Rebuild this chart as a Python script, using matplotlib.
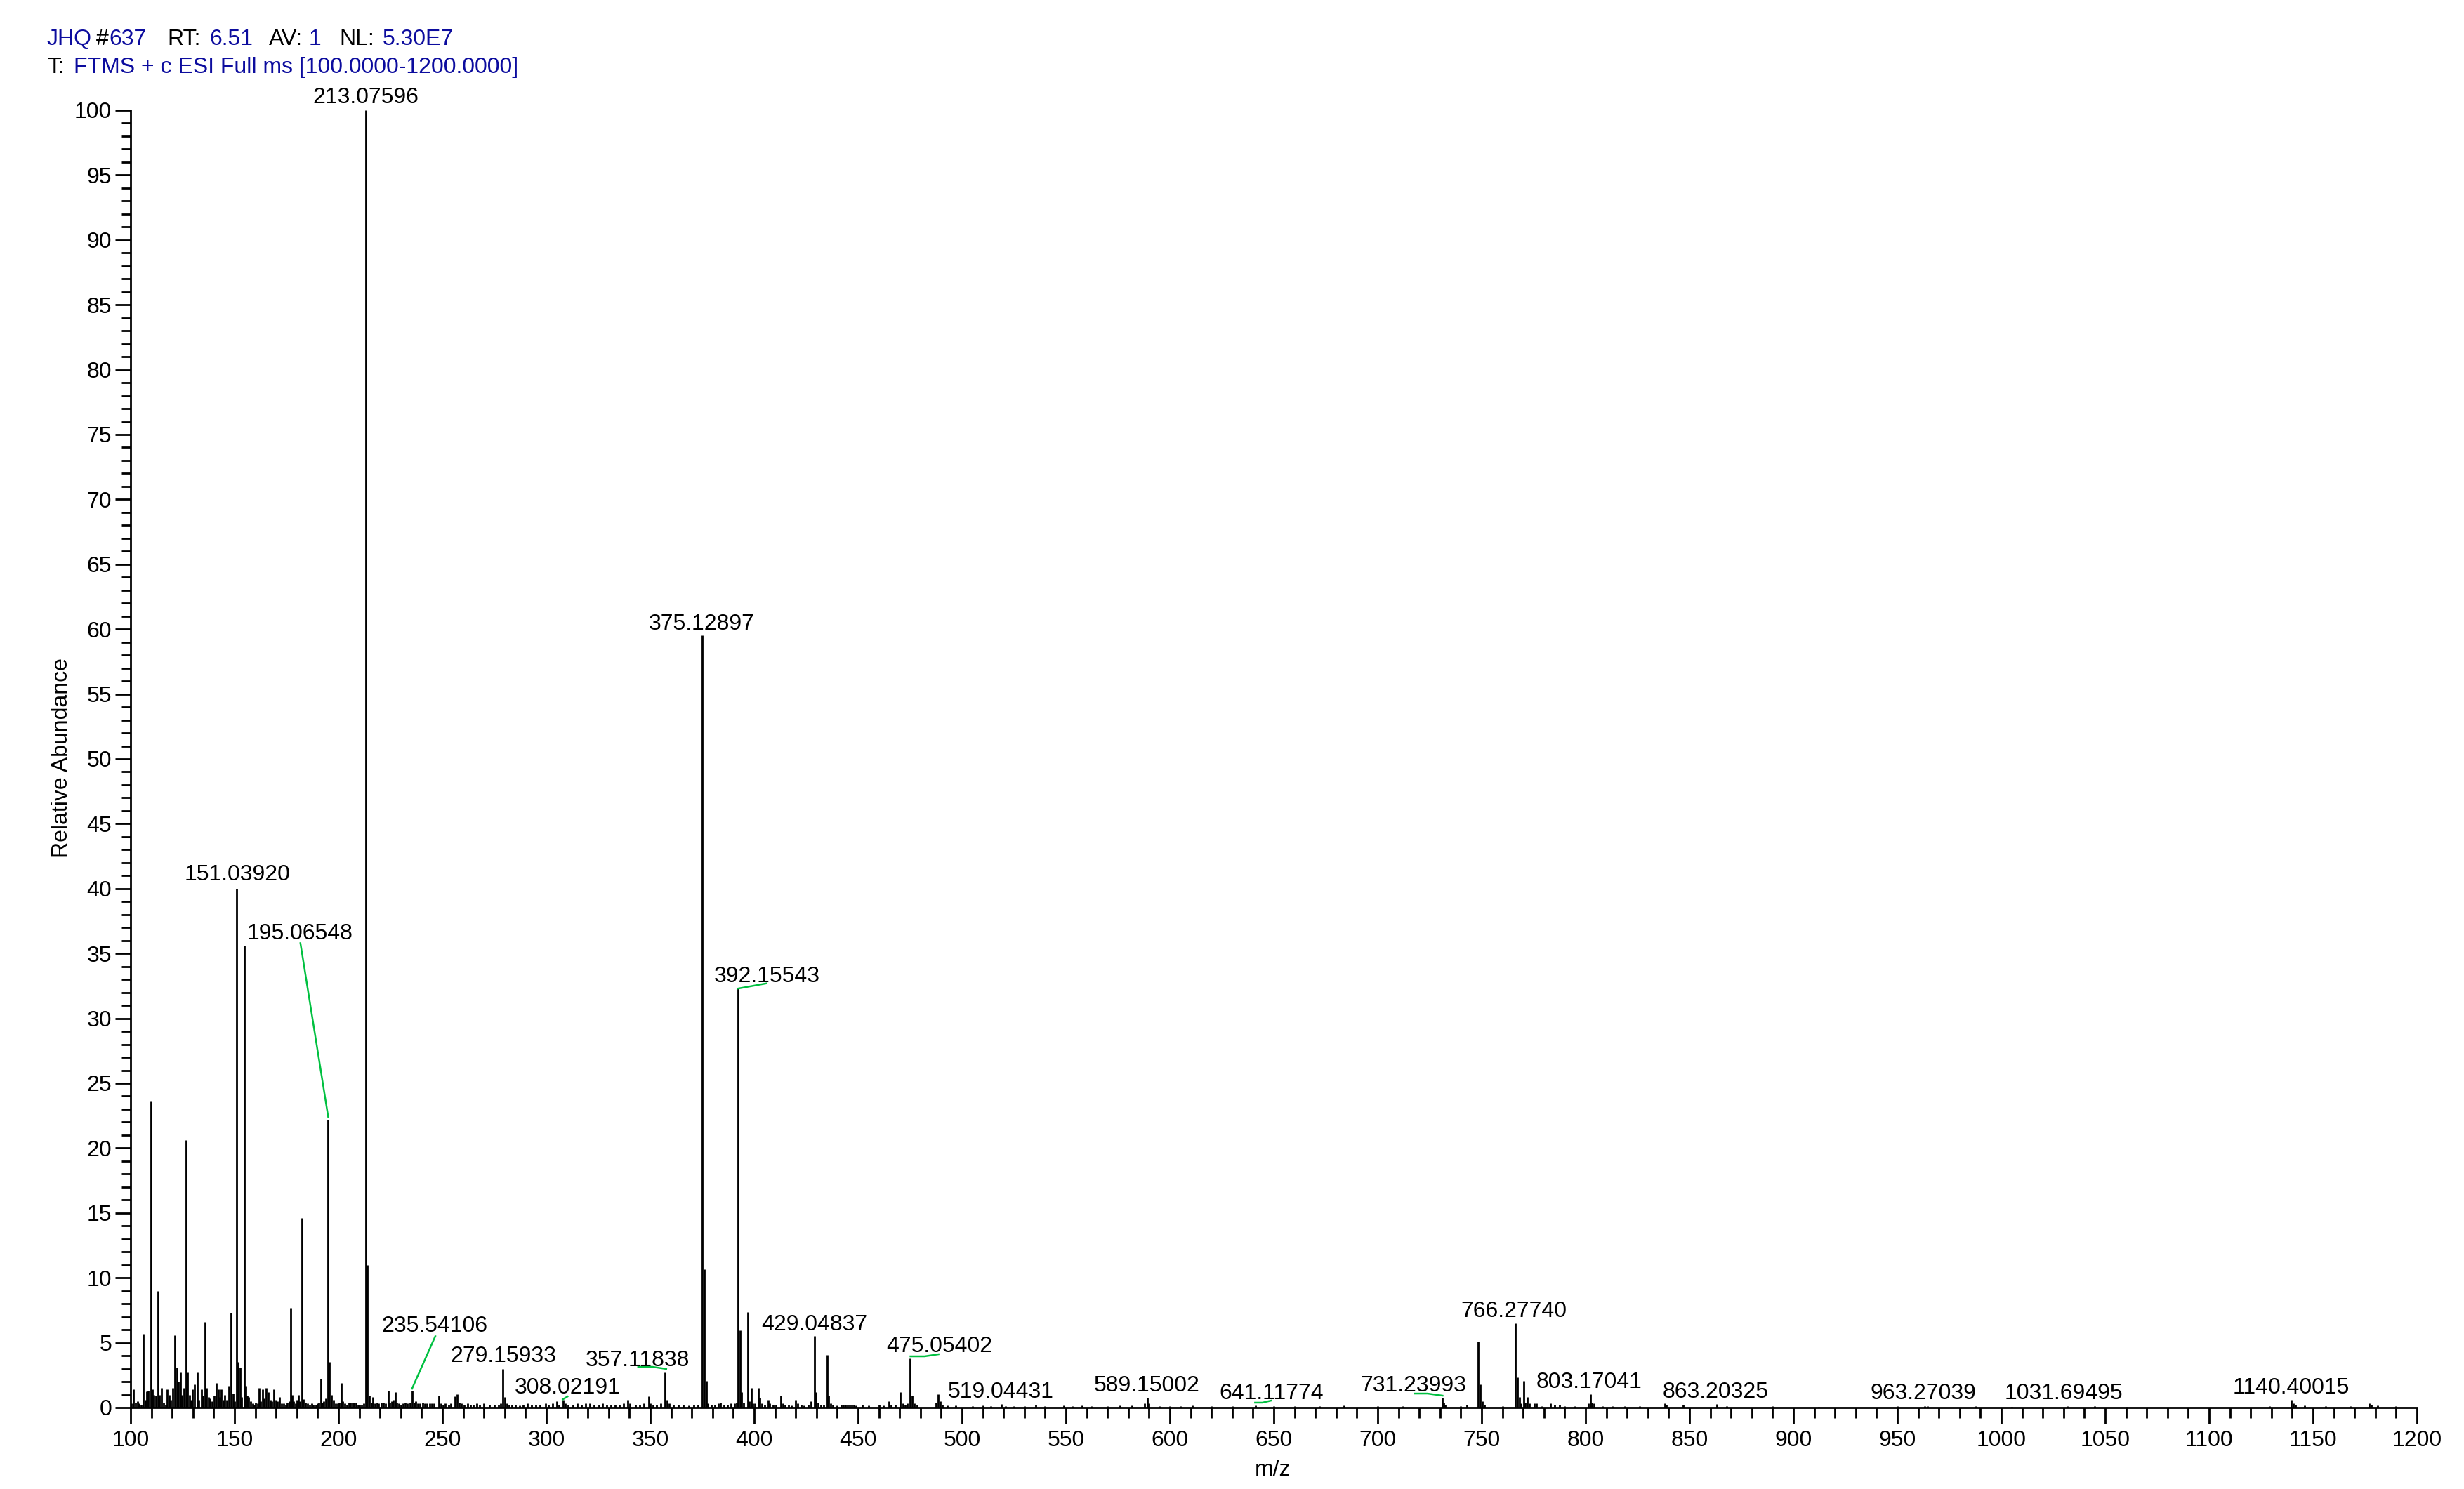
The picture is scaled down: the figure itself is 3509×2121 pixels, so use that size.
import matplotlib
matplotlib.use("Agg")
import matplotlib.pyplot as plt
from matplotlib.ticker import MultipleLocator, FormatStrFormatter

plt.rcParams['font.family'] = ['Liberation Sans', 'DejaVu Sans']

# ---------------- data ----------------
mz = [
    100.5, 101.5, 102.3, 103.4, 104.2, 105.0, 106.0, 107.0, 107.7, 108.5, 109.7, 110.6, 111.3, 112.2,
    113.2, 114.0, 114.9, 116.0, 116.8, 117.6, 118.5, 119.3, 120.3, 121.3, 122.2, 123.1, 124.0, 124.8,
    125.8, 126.7, 127.4, 128.3, 129.0, 129.8, 130.9, 132.0, 132.9, 134.0, 134.8, 135.7, 136.6, 137.5,
    138.3, 139.3, 140.2, 141.1, 142.2, 142.9, 143.6, 144.5, 145.4, 146.3, 147.3, 148.2, 149.2, 150.1,
    151.04, 151.8, 152.7, 153.5, 154.6, 155.4, 156.2, 156.9, 157.8, 158.7, 159.5, 160.3, 161.0, 161.8,
    162.6, 163.4, 164.3, 165.2, 166.2, 167.1, 168.0, 168.8, 169.8, 170.7, 171.6, 172.5, 173.5, 174.5,
    175.4, 176.2, 176.9, 177.6, 178.5, 179.4, 180.0, 180.7, 181.5, 182.4, 183.2, 184.1, 185.0, 186.0,
    187.0, 188.0, 189.1, 190.0, 190.7, 191.4, 192.2, 193.0, 194.0, 195.07, 195.7, 196.5, 197.6, 198.5,
    199.5, 200.4, 201.3, 202.1, 203.0, 204.0, 204.9, 205.8, 206.7, 207.5, 208.4, 209.3, 210.3, 211.2,
    212.2, 213.08, 214.0, 215.0, 215.8, 216.7,
    217.6, 218.5, 219.4, 220.5, 221.5, 222.5, 224.0, 224.8, 225.7, 226.5, 227.3, 228.2, 229.0, 230.0,
    231.0, 232.2, 233.2, 234.3, 235.54, 236.4, 237.3, 238.2, 239.2, 240.5, 241.5, 242.5, 244.0, 245.0,
    246.0, 248.2, 249.2, 250.3, 251.5, 253.0, 254.2, 256.0, 257.1, 258.0, 259.0, 260.5, 262.0, 263.5,
    265.0, 266.5, 268.0, 270.0, 272.5, 275.0, 277.0, 278.2, 279.16, 280.2, 281.1, 282.0, 283.5, 285.0,
    287.0, 289.0, 291.0, 293.0, 295.0, 297.0, 299.5, 301.0, 303.0, 305.0, 306.0, 308.02, 309.0, 310.5,
    313.0, 315.0, 317.0, 319.0, 321.0, 323.0, 325.5, 327.0, 329.0, 331.0, 333.0, 335.0, 337.0, 339.3,
    340.2, 343.0, 345.0, 347.0, 349.2, 350.0, 351.5, 353.0, 355.0, 357.12, 358.0, 359.0, 361.0, 363.5,
    366.0, 368.5, 371.0, 373.0,
    375.13, 376.0, 376.9, 377.7, 379.5, 381.0, 382.7, 383.9, 385.5, 387.0, 389.0, 390.5, 391.5, 392.16,
    393.1, 394.0, 394.8, 396.9, 397.7, 398.5, 399.3, 400.4, 401.9, 402.8, 403.7, 405.0, 406.7, 407.6,
    409.0, 410.5, 413.0, 413.8, 415.0, 416.5, 418.0, 420.0, 420.9, 422.5, 424.0, 426.0, 427.3, 429.05,
    429.8, 430.7, 432.0, 433.5, 435.1, 435.9, 436.8, 438.0, 440.0, 442.0, 443.0, 444.0, 445.0, 446.0,
    447.0, 448.0, 449.0, 452.0, 455.0, 460.0, 462.0, 464.7, 466.0, 468.0, 470.4, 471.5, 472.5, 473.5,
    475.05, 476.1, 477.0, 478.5, 487.5, 488.6, 489.5, 490.5, 493.0, 497.0,
    505.0, 510.0, 514.0, 519.04, 521.0, 525.0, 530.0, 535.6, 540.0, 549.0, 553.0, 557.7, 562.0, 570.0,
    576.0, 581.6, 588.0, 589.15, 590.0, 595.0, 600.0, 605.0, 610.7, 620.0, 630.0, 641.12, 650.0, 660.0,
    672.0, 683.7, 700.0, 712.0,
    731.24, 731.9, 732.6, 740.0, 743.0, 748.3, 749.3, 750.3, 751.3, 760.0, 766.28, 767.28, 768.3, 769.0,
    770.2, 771.0, 772.0, 773.0, 775.5, 776.5, 779.0, 783.0, 785.0, 787.5, 790.0, 795.0, 801.5, 802.4,
    803.2, 804.0, 808.0, 813.0, 819.0, 826.0, 838.1, 839.0, 847.0, 863.2, 868.0,
    890.0, 912.0, 950.0, 963.27, 964.5, 988.0, 1005.0, 1031.7, 1045.0, 1060.0, 1129.0, 1139.4, 1140.4,
    1141.5, 1146.0, 1156.0, 1168.0, 1177.0, 1178.0, 1181.0, 1190.0,
]
intensity = [
    0.3, 1.4, 0.4, 0.5, 0.3, 0.2, 5.7, 0.6, 1.25, 1.3, 23.6, 1.4, 1.0, 0.9,
    9.0, 1.0, 1.5, 0.4, 0.2, 1.4, 1.0, 0.6, 1.5, 5.6, 3.1, 2.0, 2.7, 1.0,
    1.5, 20.6, 2.7, 1.0, 0.6, 1.4, 1.8, 2.7, 0.6, 1.4, 0.9, 6.6, 1.5, 0.8,
    0.7, 0.5, 0.9, 1.9, 1.4, 0.8, 1.4, 0.6, 1.0, 0.6, 1.7, 7.3, 1.1, 0.5,
    40.0, 3.5, 3.1, 0.8, 35.6, 1.7, 0.9, 0.8, 0.5, 0.3, 0.2, 0.4, 0.3, 1.5,
    0.5, 1.4, 0.7, 1.5, 1.2, 0.6, 0.5, 1.4, 0.6, 0.5, 0.8, 0.3, 0.3, 0.2,
    0.4, 0.5, 7.7, 1.0, 0.5, 0.3, 0.6, 1.0, 0.5, 14.6, 0.65, 0.4, 0.3, 0.2,
    0.3, 0.2, 0.2, 0.3, 0.4, 2.2, 0.4, 0.5, 0.7, 22.2, 3.5, 1.0, 0.6, 0.3,
    0.3, 0.4, 1.9, 0.5, 0.3, 0.2, 0.4, 0.4, 0.4, 0.4, 0.4, 0.2, 0.2, 0.2,
    0.3, 100.0, 11.0, 0.9, 0.4, 0.8,
    0.3, 0.4, 0.3, 0.4, 0.4, 0.3, 1.3, 0.4, 0.5, 0.6, 1.2, 0.4, 0.3, 0.2,
    0.3, 0.4, 0.3, 0.4, 1.3, 0.4, 0.5, 0.3, 0.3, 0.4, 0.3, 0.3, 0.3, 0.3,
    0.3, 0.9, 0.3, 0.2, 0.3, 0.2, 0.3, 0.87, 1.05, 0.4, 0.3, 0.2, 0.3, 0.2,
    0.2, 0.3, 0.2, 0.3, 0.2, 0.2, 0.2, 0.3, 3.0, 0.8, 0.3, 0.2, 0.2, 0.2,
    0.15, 0.2, 0.3, 0.2, 0.2, 0.2, 0.3, 0.2, 0.3, 0.47, 0.2, 0.6, 0.3, 0.2,
    0.2, 0.3, 0.2, 0.3, 0.3, 0.2, 0.2, 0.3, 0.2, 0.2, 0.2, 0.2, 0.3, 0.6,
    0.3, 0.2, 0.2, 0.3, 0.85, 0.3, 0.2, 0.2, 0.3, 2.7, 0.6, 0.3, 0.2, 0.2,
    0.2, 0.15, 0.2, 0.2,
    59.5, 10.65, 2.04, 0.3, 0.2, 0.2, 0.3, 0.4, 0.2, 0.2, 0.3, 0.3, 0.4, 32.3,
    5.96, 1.2, 0.4, 7.36, 0.5, 1.5, 0.3, 0.3, 1.5, 0.78, 0.3, 0.2, 0.6, 0.3,
    0.2, 0.2, 0.9, 0.3, 0.2, 0.2, 0.15, 0.6, 0.3, 0.2, 0.15, 0.2, 0.5, 5.5,
    1.2, 0.4, 0.2, 0.2, 4.08, 0.9, 0.3, 0.2, 0.15, 0.2, 0.2, 0.2, 0.2, 0.2,
    0.2, 0.2, 0.15, 0.2, 0.15, 0.2, 0.15, 0.47, 0.2, 0.2, 1.2, 0.3, 0.2, 0.3,
    3.8, 0.9, 0.3, 0.2, 0.4, 1.05, 0.5, 0.2, 0.15, 0.15,
    0.1, 0.15, 0.1, 0.27, 0.1, 0.1, 0.1, 0.23, 0.1, 0.18, 0.1, 0.18, 0.1, 0.1,
    0.15, 0.18, 0.3, 0.78, 0.3, 0.1, 0.1, 0.1, 0.18, 0.1, 0.1, 0.14, 0.1, 0.1,
    0.1, 0.18, 0.1, 0.1,
    0.78, 0.4, 0.2, 0.1, 0.2, 5.07, 1.77, 0.5, 0.2, 0.1, 6.5, 2.35, 0.8, 0.3,
    2.04, 0.4, 0.8, 0.3, 0.33, 0.3, 0.1, 0.33, 0.2, 0.2, 0.1, 0.1, 0.3, 1.05,
    0.4, 0.3, 0.1, 0.1, 0.1, 0.1, 0.33, 0.2, 0.2, 0.25, 0.1,
    0.1, 0.05, 0.1, 0.12, 0.1, 0.12, 0.05, 0.12, 0.12, 0.05, 0.1, 0.6, 0.35,
    0.2, 0.15, 0.1, 0.1, 0.35, 0.2, 0.15, 0.1,
]

peak_labels = ["213.07596", "151.03920", "195.06548", "375.12897", "392.15543", "429.04837",
               "475.05402", "357.11838", "235.54106", "279.15933", "308.02191", "519.04431",
               "589.15002", "641.11774", "731.23993", "766.27740", "803.17041", "863.20325",
               "963.27039", "1031.69495", "1140.40015"]

x_ticks = list(range(100, 1201, 50))
y_ticks = list(range(0, 101, 5))

# ---------------- layout (label centres and leader lines, data coords) ----------------
label_x = [213.1, 151.3, 181.4, 374.9, 406.3, 428.9, 489.1, 343.8, 246.2, 279.3, 310.1, 518.8,
           589.0, 648.8, 717.0, 765.6, 801.8, 862.6, 962.5, 1030.1, 1139.5]
label_y = [100.95, 41.05, 36.55, 60.41, 33.25, 6.41, 4.73, 3.65, 6.3, 3.97, 1.54, 1.21,
           1.7, 1.1, 1.7, 7.43, 1.97, 1.21, 1.1, 1.1, 1.54]

leaders = [
    ([181.7, 195.07], [35.8, 22.4]),
    ([246.6, 235.4], [5.5, 1.46]),
    ([307.9, 310.2], [0.63, 0.85]),
    ([344.2, 351.0, 357.7], [3.14, 3.14, 2.98]),
    ([392.3, 406.0], [32.3, 32.7]),
    ([475.2, 482.0, 488.7], [3.95, 3.95, 4.11]),
    ([641.0, 644.5, 648.8], [0.38, 0.38, 0.54]),
    ([717.7, 724.0, 731.2], [1.08, 1.08, 0.92]),
]

W, H = 3509, 2121
BLUE = '#0c0c9e'
GREEN = '#00c040'
FS = 23

fig = plt.figure(figsize=(W / 100, H / 100), dpi=100)
ax = fig.add_axes([186 / W, (H - 2005) / H, (3442 - 186) / W, (2005 - 157) / H])

ax.vlines(mz, 0, intensity, colors='black', linewidth=2.0, clip_on=False)

for lx, ly in leaders:
    ax.plot(lx, ly, color=GREEN, linewidth=1.8, clip_on=False, zorder=3)

for s, x, y in zip(peak_labels, label_x, label_y):
    ax.text(x, y, s, ha='center', va='center', fontsize=FS, color='black', clip_on=False)

ax.set_xlim(100, 1200)
ax.set_ylim(0, 100)
ax.set_xticks(x_ticks)
ax.set_yticks(y_ticks)
ax.xaxis.set_minor_locator(MultipleLocator(10))
ax.yaxis.set_minor_locator(MultipleLocator(1))
ax.yaxis.set_major_formatter(FormatStrFormatter('%d'))
ax.xaxis.set_major_formatter(FormatStrFormatter('%d'))

for side in ('top', 'right'):
    ax.spines[side].set_visible(False)
for side in ('left', 'bottom'):
    ax.spines[side].set_linewidth(2.0)

ax.tick_params(axis='x', which='major', length=16.5, width=2.0, pad=6.5, labelsize=FS, direction='out')
ax.tick_params(axis='x', which='minor', length=10.8, width=2.0, direction='out')
ax.tick_params(axis='y', which='major', length=15.8, width=2.0, pad=3.5, labelsize=FS, direction='out')
ax.tick_params(axis='y', which='minor', length=9.4, width=2.0, direction='out')

# axis titles
fig.text(88 / W, 1 - 1080 / H, 'Relative Abundance', rotation=90, ha='center', va='center', fontsize=FS)
fig.text(1813 / W, 1 - 2094 / H, 'm/z', ha='center', va='center', fontsize=FS)

# header
line1 = [("JHQ", 67, BLUE), ("#", 137, 'black'), ("637", 155, BLUE), ("RT:", 238, 'black'),
         ("6.51", 298, BLUE), ("AV:", 383, 'black'), ("1", 440, BLUE), ("NL:", 483, 'black'),
         ("5.30E7", 545, BLUE)]
line2 = [("T:", 67, 'black'), ("FTMS + c ESI Full ms [100.0000-1200.0000]", 105, BLUE)]
for s, x, c in line1:
    fig.text(x / W, 1 - 64 / H, s, ha='left', va='baseline', fontsize=FS, color=c)
for s, x, c in line2:
    fig.text(x / W, 1 - 104 / H, s, ha='left', va='baseline', fontsize=FS, color=c)

fig.savefig('out.png', dpi=100, facecolor='white')
